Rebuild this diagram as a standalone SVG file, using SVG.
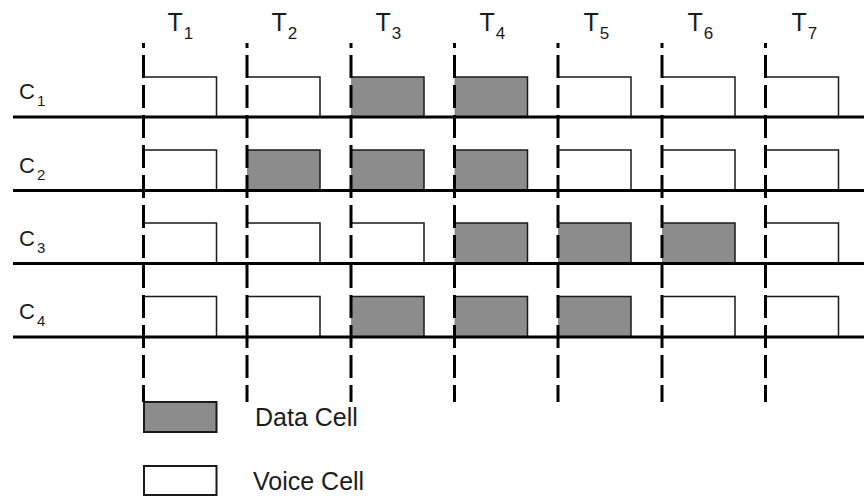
<svg xmlns="http://www.w3.org/2000/svg" width="864" height="496" viewBox="0 0 864 496">
  <style>
    .lbl { font-family: "Liberation Sans", Arial, sans-serif; fill: #1c1c1c; }
    .tlbl { font-size: 25px; }
    .clbl { font-size: 22px; }
    .sub-t { font-size: 17px; }
    .sub-c { font-size: 15px; }
    .legend { font-size: 25px; }
    .voice { fill: #ffffff; stroke: none; }
    .data { fill: #8c8c8c; stroke: none; }
    .edge { fill: none; stroke: #1a1a1a; stroke-width: 1.5; }
    .slot { stroke: #000; stroke-width: 3; stroke-dasharray: 23 7; stroke-dashoffset: 18; fill: none; }
    .channel { stroke: #000; stroke-width: 3; fill: none; }
    .key { stroke: #1a1a1a; stroke-width: 2; }
  </style>

  <!-- time slot headings -->
  <g id="slot-labels" class="lbl tlbl">
    <text x="167.5" y="31">T<tspan class="sub-t" dx="1" dy="8">1</tspan></text>
    <text x="271.5" y="31">T<tspan class="sub-t" dx="1" dy="8">2</tspan></text>
    <text x="375.5" y="31">T<tspan class="sub-t" dx="1" dy="8">3</tspan></text>
    <text x="479.5" y="31">T<tspan class="sub-t" dx="1" dy="8">4</tspan></text>
    <text x="583.5" y="31">T<tspan class="sub-t" dx="1" dy="8">5</tspan></text>
    <text x="687.5" y="31">T<tspan class="sub-t" dx="1" dy="8">6</tspan></text>
    <text x="791.5" y="31">T<tspan class="sub-t" dx="1" dy="8">7</tspan></text>
  </g>

  <!-- channel headings -->
  <g id="channel-labels" class="lbl clbl">
    <text x="19" y="99">C<tspan class="sub-c" dx="2" dy="7">1</tspan></text>
    <text x="19" y="172.5">C<tspan class="sub-c" dx="2" dy="7">2</tspan></text>
    <text x="19" y="245.5">C<tspan class="sub-c" dx="2" dy="7">3</tspan></text>
    <text x="19" y="319">C<tspan class="sub-c" dx="2" dy="7">4</tspan></text>
  </g>

  <!-- cells: C1 (baseline 117) -->
  <g id="c1">
    <g id="c1-t1"><rect class="voice" x="143.5" y="77" width="73" height="40"/><path class="edge" d="M143.5,77 H216.5 V117"/></g>
    <g id="c1-t2"><rect class="voice" x="247" y="77" width="73" height="40"/><path class="edge" d="M247,77 H320 V117"/></g>
    <g id="c1-t3"><rect class="data" x="351" y="77" width="73" height="40"/><path class="edge" d="M351,77 H424 V117"/></g>
    <g id="c1-t4"><rect class="data" x="454.5" y="77" width="73" height="40"/><path class="edge" d="M454.5,77 H527.5 V117"/></g>
    <g id="c1-t5"><rect class="voice" x="558" y="77" width="73" height="40"/><path class="edge" d="M558,77 H631 V117"/></g>
    <g id="c1-t6"><rect class="voice" x="662" y="77" width="73" height="40"/><path class="edge" d="M662,77 H735 V117"/></g>
    <g id="c1-t7"><rect class="voice" x="765.5" y="77" width="73" height="40"/><path class="edge" d="M765.5,77 H838.5 V117"/></g>
  </g>

  <!-- cells: C2 (baseline 190.5) -->
  <g id="c2">
    <g id="c2-t1"><rect class="voice" x="143.5" y="150" width="73" height="40.5"/><path class="edge" d="M143.5,150 H216.5 V190.5"/></g>
    <g id="c2-t2"><rect class="data" x="247" y="150" width="73" height="40.5"/><path class="edge" d="M247,150 H320 V190.5"/></g>
    <g id="c2-t3"><rect class="data" x="351" y="150" width="73" height="40.5"/><path class="edge" d="M351,150 H424 V190.5"/></g>
    <g id="c2-t4"><rect class="data" x="454.5" y="150" width="73" height="40.5"/><path class="edge" d="M454.5,150 H527.5 V190.5"/></g>
    <g id="c2-t5"><rect class="voice" x="558" y="150" width="73" height="40.5"/><path class="edge" d="M558,150 H631 V190.5"/></g>
    <g id="c2-t6"><rect class="voice" x="662" y="150" width="73" height="40.5"/><path class="edge" d="M662,150 H735 V190.5"/></g>
    <g id="c2-t7"><rect class="voice" x="765.5" y="150" width="73" height="40.5"/><path class="edge" d="M765.5,150 H838.5 V190.5"/></g>
  </g>

  <!-- cells: C3 (baseline 263.5) -->
  <g id="c3">
    <g id="c3-t1"><rect class="voice" x="143.5" y="223" width="73" height="40.5"/><path class="edge" d="M143.5,223 H216.5 V263.5"/></g>
    <g id="c3-t2"><rect class="voice" x="247" y="223" width="73" height="40.5"/><path class="edge" d="M247,223 H320 V263.5"/></g>
    <g id="c3-t3"><rect class="voice" x="351" y="223" width="73" height="40.5"/><path class="edge" d="M351,223 H424 V263.5"/></g>
    <g id="c3-t4"><rect class="data" x="454.5" y="223" width="73" height="40.5"/><path class="edge" d="M454.5,223 H527.5 V263.5"/></g>
    <g id="c3-t5"><rect class="data" x="558" y="223" width="73" height="40.5"/><path class="edge" d="M558,223 H631 V263.5"/></g>
    <g id="c3-t6"><rect class="data" x="662" y="223" width="73" height="40.5"/><path class="edge" d="M662,223 H735 V263.5"/></g>
    <g id="c3-t7"><rect class="voice" x="765.5" y="223" width="73" height="40.5"/><path class="edge" d="M765.5,223 H838.5 V263.5"/></g>
  </g>

  <!-- cells: C4 (baseline 337) -->
  <g id="c4">
    <g id="c4-t1"><rect class="voice" x="143.5" y="296.5" width="73" height="40.5"/><path class="edge" d="M143.5,296.5 H216.5 V337"/></g>
    <g id="c4-t2"><rect class="voice" x="247" y="296.5" width="73" height="40.5"/><path class="edge" d="M247,296.5 H320 V337"/></g>
    <g id="c4-t3"><rect class="data" x="351" y="296.5" width="73" height="40.5"/><path class="edge" d="M351,296.5 H424 V337"/></g>
    <g id="c4-t4"><rect class="data" x="454.5" y="296.5" width="73" height="40.5"/><path class="edge" d="M454.5,296.5 H527.5 V337"/></g>
    <g id="c4-t5"><rect class="data" x="558" y="296.5" width="73" height="40.5"/><path class="edge" d="M558,296.5 H631 V337"/></g>
    <g id="c4-t6"><rect class="voice" x="662" y="296.5" width="73" height="40.5"/><path class="edge" d="M662,296.5 H735 V337"/></g>
    <g id="c4-t7"><rect class="voice" x="765.5" y="296.5" width="73" height="40.5"/><path class="edge" d="M765.5,296.5 H838.5 V337"/></g>
  </g>

  <!-- connectors: slot boundaries and channel lines -->
  <g id="connectors">
    <line class="slot" x1="143.5" y1="43" x2="143.5" y2="402"/>
    <line class="slot" x1="247" y1="43" x2="247" y2="402"/>
    <line class="slot" x1="351" y1="43" x2="351" y2="402"/>
    <line class="slot" x1="454.5" y1="43" x2="454.5" y2="402"/>
    <line class="slot" x1="558" y1="43" x2="558" y2="402"/>
    <line class="slot" x1="662" y1="43" x2="662" y2="402"/>
    <line class="slot" x1="765.5" y1="43" x2="765.5" y2="402"/>
    <line class="channel" x1="13" y1="117" x2="864" y2="117"/>
    <line class="channel" x1="13" y1="190.5" x2="864" y2="190.5"/>
    <line class="channel" x1="13" y1="263.5" x2="864" y2="263.5"/>
    <line class="channel" x1="13" y1="337" x2="864" y2="337"/>
  </g>

  <!-- legend -->
  <g id="legend-data">
    <rect class="data key" x="144" y="402" width="72.5" height="30"/>
    <text class="lbl legend" x="255" y="425.5">Data Cell</text>
  </g>
  <g id="legend-voice">
    <rect class="voice key" x="144" y="466" width="72.5" height="29"/>
    <text class="lbl legend" x="253" y="490">Voice Cell</text>
  </g>
</svg>
